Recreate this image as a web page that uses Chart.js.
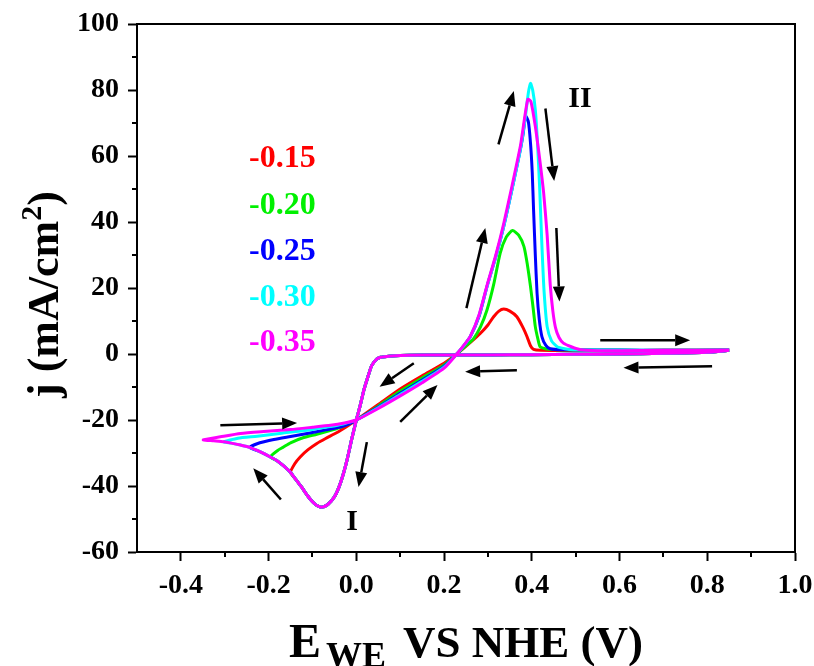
<!DOCTYPE html>
<html>
<head>
<meta charset="utf-8">
<script src="https://cdn.jsdelivr.net/npm/chart.js@4.4.1/dist/chart.umd.min.js"></script>
<style>
  html, body { margin: 0; padding: 0; background: #fff; }
  #wrap { width: 814px; height: 666px; }
</style>
</head>
<body>
<div id="wrap"><canvas id="myChart" width="814" height="666"></canvas></div>
<script>
// scan limits (V vs NHE) for each curve
var labels = ['-0.15', '-0.20', '-0.25', '-0.30', '-0.35']
var colors = ['#ff0000', '#00f000', '#0000ff', '#00ffff', '#ff00ff']

// each loop: cathodic sweep from 0.85 V down to the limit, then anodic sweep back to 0.85 V
var red_E = [0.85, 0.80, 0.70, 0.60, 0.50, 0.40, 0.30, 0.20, 0.12, 0.08, 0.065, 0.055, 0.047, 0.035, 0.025, 0.017, 0.009, 0.0, -0.01, -0.021, -0.03, -0.04, -0.05, -0.065, -0.078, -0.09, -0.1, -0.112, -0.125, -0.138, -0.15,
  -0.14, -0.128, -0.11, -0.09, -0.07, -0.044, -0.02, 0.0, 0.05, 0.1, 0.15, 0.2, 0.229, 0.26, 0.283, 0.3, 0.313, 0.325, 0.336, 0.35, 0.366, 0.38, 0.389, 0.397, 0.404, 0.42, 0.5, 0.6, 0.7, 0.85]
var red_j = [1.1, 0.5, 0.2, 0.0, -0.1, -0.2, -0.3, -0.3, -0.4, -0.6, -0.8, -1.0, -1.5, -3.5, -7.5, -11, -15.5, -20, -25.5, -32, -36.5, -40.5, -43.3, -45.6, -46.4, -45.9, -44.8, -42.8, -40.3, -38, -35.9,
  -33.2, -31.2, -29, -27.1, -25.6, -23.8, -21.8, -20, -15.3, -10.6, -6.6, -2.8, 0, 3.5, 6.3, 8.8, 11.3, 13, 13.6, 13, 11.3, 8, 5.3, 2.5, 1.4, 1.1, 1.1, 1.1, 1.1, 1.2]

var green_E = [0.85, 0.80, 0.70, 0.60, 0.50, 0.40, 0.30, 0.20, 0.12, 0.08, 0.065, 0.055, 0.047, 0.035, 0.025, 0.017, 0.009, 0.0, -0.01, -0.021, -0.03, -0.04, -0.05, -0.065, -0.078, -0.09, -0.1, -0.112, -0.125, -0.138, -0.15, -0.165, -0.18, -0.196,
  -0.18, -0.166, -0.15, -0.12, -0.09, -0.06, -0.036, -0.015, 0.0, 0.05, 0.1, 0.15, 0.2, 0.229, 0.25, 0.267, 0.283, 0.298, 0.313, 0.328, 0.342, 0.356, 0.37, 0.382, 0.39, 0.397, 0.403, 0.408, 0.414, 0.419, 0.434, 0.5, 0.6, 0.7, 0.85]
var green_j = [1.1, 0.5, 0.2, 0.0, -0.1, -0.2, -0.3, -0.3, -0.4, -0.6, -0.8, -1.0, -1.5, -3.5, -7.5, -11, -15.5, -20, -25.5, -32, -36.5, -40.5, -43.3, -45.6, -46.4, -45.9, -44.8, -42.8, -40.3, -38, -35.9, -34, -32.4, -31.2,
  -29.3, -28.2, -26.9, -25.3, -24.3, -23.2, -22.2, -21, -20, -15.8, -11.3, -7.3, -3.3, 0, 2.5, 4.6, 8.2, 13.4, 21, 30.6, 35.5, 37.4, 36, 32.6, 27, 20.5, 14, 8.3, 4.5, 2.2, 1.5, 1.2, 1.1, 1.1, 1.2]

var blue_E = [0.85, 0.80, 0.70, 0.60, 0.50, 0.40, 0.30, 0.20, 0.12, 0.08, 0.065, 0.055, 0.047, 0.035, 0.025, 0.017, 0.009, 0.0, -0.01, -0.021, -0.03, -0.04, -0.05, -0.065, -0.078, -0.09, -0.1, -0.112, -0.125, -0.138, -0.15, -0.165, -0.18, -0.196, -0.22, -0.243,
  -0.22, -0.188, -0.15, -0.112, -0.07, -0.036, -0.015, 0.0, 0.05, 0.1, 0.15, 0.2, 0.229, 0.245, 0.26, 0.28, 0.298, 0.318, 0.336, 0.355, 0.374, 0.38, 0.386, 0.392, 0.397, 0.401, 0.404, 0.408, 0.412, 0.417, 0.423, 0.432, 0.442, 0.47, 0.6, 0.7, 0.85]
var blue_j = [1.1, 0.5, 0.2, 0.0, -0.1, -0.2, -0.3, -0.3, -0.4, -0.6, -0.8, -1.0, -1.5, -3.5, -7.5, -11, -15.5, -20, -25.5, -32, -36.5, -40.5, -43.3, -45.6, -46.4, -45.9, -44.8, -42.8, -40.3, -38, -35.9, -34, -32.4, -31.2, -29.6, -28.3,
  -26.9, -25.9, -25, -24.1, -23, -22.1, -21.1, -20, -16.1, -11.9, -7.9, -3.7, 0, 2.5, 5.3, 11.5, 20.5, 29.5, 38.7, 50, 62, 66.5, 72.1, 70.5, 64, 55, 43.8, 30, 18.4, 10.5, 5.3, 2.6, 1.6, 1.3, 1.2, 1.1, 1.2]

var cyan_E = [0.85, 0.80, 0.70, 0.60, 0.50, 0.40, 0.30, 0.20, 0.12, 0.08, 0.065, 0.055, 0.047, 0.035, 0.025, 0.017, 0.009, 0.0, -0.01, -0.021, -0.03, -0.04, -0.05, -0.065, -0.078, -0.09, -0.1, -0.112, -0.125, -0.138, -0.15, -0.165, -0.18, -0.196, -0.22, -0.243, -0.264, -0.285, -0.302,
  -0.27, -0.226, -0.17, -0.112, -0.06, -0.03, 0.0, 0.05, 0.1, 0.15, 0.2, 0.229, 0.245, 0.26, 0.28, 0.298, 0.318, 0.336, 0.355, 0.374, 0.385, 0.392, 0.397, 0.402, 0.408, 0.413, 0.418, 0.423, 0.428, 0.435, 0.445, 0.458, 0.475, 0.495, 0.6, 0.7, 0.85]
var cyan_j = [1.1, 0.5, 0.2, 0.0, -0.1, -0.2, -0.3, -0.3, -0.4, -0.6, -0.8, -1.0, -1.5, -3.5, -7.5, -11, -15.5, -20, -25.5, -32, -36.5, -40.5, -43.3, -45.6, -46.4, -45.9, -44.8, -42.8, -40.3, -38, -35.9, -34, -32.4, -31.2, -29.6, -28.3, -27.6, -27, -26.6,
  -25.5, -24.9, -24, -23.1, -22, -21.2, -20, -16.3, -12.3, -8.3, -4, 0, 2.5, 5.3, 11.8, 20.5, 29.5, 38.7, 50, 62, 71.5, 79, 82, 80, 74, 64, 50, 33, 19, 8.3, 4, 2.2, 1.6, 1.3, 1.2, 1.1, 1.2]

var magenta_E = [0.85, 0.80, 0.70, 0.60, 0.50, 0.40, 0.30, 0.20, 0.12, 0.08, 0.065, 0.055, 0.047, 0.035, 0.025, 0.017, 0.009, 0.0, -0.01, -0.021, -0.03, -0.04, -0.05, -0.065, -0.078, -0.09, -0.1, -0.112, -0.125, -0.138, -0.15, -0.165, -0.18, -0.196, -0.22, -0.243, -0.264, -0.285, -0.302, -0.325, -0.349,
  -0.31, -0.264, -0.211, -0.15, -0.1, -0.059, -0.03, 0.0, 0.05, 0.1, 0.15, 0.2, 0.229, 0.245, 0.26, 0.28, 0.298, 0.318, 0.336, 0.355, 0.374, 0.383, 0.391, 0.398, 0.408, 0.418, 0.427, 0.435, 0.442, 0.448, 0.454, 0.462, 0.472, 0.49, 0.511, 0.55, 0.6, 0.7, 0.85]
var magenta_j = [1.1, 0.5, 0.2, 0.0, -0.1, -0.2, -0.3, -0.3, -0.4, -0.6, -0.8, -1.0, -1.5, -3.5, -7.5, -11, -15.5, -20, -25.5, -32, -36.5, -40.5, -43.3, -45.6, -46.4, -45.9, -44.8, -42.8, -40.3, -38, -35.9, -34, -32.4, -31.2, -29.6, -28.3, -27.6, -27, -26.6, -26.3, -26.0,
  -25.1, -24.1, -23.5, -22.9, -22.2, -21.6, -21, -20, -16.5, -12.7, -8.7, -4.3, 0, 2.6, 5.4, 12, 20.8, 30, 39.5, 51, 63, 71, 77.2, 76.5, 69, 59, 48.8, 36, 21, 13, 8, 5, 3.3, 2.2, 1.3, 1.0, 1.0, 1.1, 1.2]

var xTicks = [-0.4, -0.2, 0.0, 0.2, 0.4, 0.6, 0.8, 1.0]
var xMinor = [-0.3, -0.1, 0.1, 0.3, 0.5, 0.7, 0.9]
var yTicks = [-60, -40, -20, 0, 20, 40, 60, 80, 100]
var yMinor = [-50, -30, -10, 10, 30, 50, 70, 90]

// sweep direction arrows, [E, j] from -> to
var arrowFrom = [[0.324, 63.5], [0.431, 74.4], [0.456, 38.2], [0.251, 13.9], [0.366, -4.9], [0.556, 4.2], [0.811, -3.7], [0.131, -2.8], [0.100, -20.6], [0.024, -26.7], [-0.310, -21.6], [-0.172, -44.1]]
var arrowTo = [[0.359, 79.7], [0.451, 52.4], [0.463, 15.9], [0.294, 38.2], [0.248, -5.4], [0.761, 4.2], [0.609, -4.2], [0.053, -9.9], [0.185, -9.4], [0.005, -40.3], [-0.135, -20.9], [-0.235, -34.6]]

var allE = [red_E, green_E, blue_E, cyan_E, magenta_E]
var allJ = [red_j, green_j, blue_j, cyan_j, magenta_j]

var datasets = []
for (var i = 0; i < allE.length; i++) {
    var pts = []
    for (var k = 0; k < allE[i].length; k++) {
        pts.push({ x: allE[i][k], y: allJ[i][k] })
    }
    datasets.push({
        label: labels[i],
        data: pts,
        showLine: true,
        borderColor: colors[i],
        backgroundColor: colors[i],
        borderWidth: 3,
        pointRadius: 0,
        tension: 0.2,
        fill: false,
        order: allE.length - i
    })
}

var serif = "'Liberation Serif', 'Times New Roman', serif"

function drawArrow(ctx, x1, y1, x2, y2) {
    var a = Math.atan2(y2 - y1, x2 - x1)
    var hl = 15, hw = 6
    var bx = x2 - hl * Math.cos(a), by = y2 - hl * Math.sin(a)
    ctx.beginPath()
    ctx.moveTo(x1, y1)
    ctx.lineTo(bx, by)
    ctx.stroke()
    ctx.beginPath()
    ctx.moveTo(x2, y2)
    ctx.lineTo(bx + hw * Math.sin(a), by - hw * Math.cos(a))
    ctx.lineTo(bx - hw * Math.sin(a), by + hw * Math.cos(a))
    ctx.closePath()
    ctx.fill()
}

var extras = {
    id: 'extras',
    afterDraw: function (chart) {
        var ctx = chart.ctx
        var xs = chart.scales.x, ys = chart.scales.y
        var area = chart.chartArea
        ctx.save()

        // frame
        ctx.strokeStyle = '#000'
        ctx.lineWidth = 2
        ctx.strokeRect(area.left, area.top, area.right - area.left, area.bottom - area.top)

        // minor ticks
        ctx.beginPath()
        xMinor.forEach(function (v) {
            var px = Math.round(xs.getPixelForValue(v))
            ctx.moveTo(px, area.bottom)
            ctx.lineTo(px, area.bottom + 5)
        })
        yMinor.forEach(function (v) {
            var py = Math.round(ys.getPixelForValue(v))
            ctx.moveTo(area.left, py)
            ctx.lineTo(area.left - 5, py)
        })
        ctx.stroke()

        // arrows
        ctx.fillStyle = '#000'
        ctx.lineWidth = 2.5
        for (var n = 0; n < arrowFrom.length; n++) {
            drawArrow(ctx,
                xs.getPixelForValue(arrowFrom[n][0]), ys.getPixelForValue(arrowFrom[n][1]),
                xs.getPixelForValue(arrowTo[n][0]), ys.getPixelForValue(arrowTo[n][1]))
        }

        // curve labels
        ctx.textAlign = 'left'
        ctx.textBaseline = 'middle'
        ctx.font = 'bold 32px ' + serif
        var ly = [159, 206, 252, 298, 343]
        for (var m = 0; m < labels.length; m++) {
            ctx.fillStyle = colors[m]
            ctx.fillText(labels[m], 249, ly[m])
        }

        // peak labels
        ctx.fillStyle = '#000'
        ctx.textAlign = 'center'
        ctx.font = 'bold 30px ' + serif
        ctx.fillText('I', 352, 522)
        ctx.fillText('II', 580, 99)

        // x title
        ctx.textAlign = 'left'
        ctx.textBaseline = 'alphabetic'
        ctx.font = 'bold 48px ' + serif
        ctx.fillText('E', 289, 657)
        ctx.font = 'bold 36px ' + serif
        ctx.fillText('WE', 326, 667)
        ctx.font = 'bold 45px ' + serif
        ctx.fillText('VS NHE (V)', 403, 657)

        // y title
        ctx.translate(58, 398)
        ctx.rotate(-Math.PI / 2)
        var x0 = 0
        ctx.font = 'bold 44px ' + serif
        ctx.fillText('j (mA/cm', x0, 0)
        x0 += ctx.measureText('j (mA/cm').width
        ctx.font = 'bold 30px ' + serif
        ctx.fillText('2', x0, -17)
        x0 += ctx.measureText('2').width
        ctx.font = 'bold 44px ' + serif
        ctx.fillText(')', x0, 0)

        ctx.restore()
    }
}

var tickFont = { family: serif, weight: 'bold', size: 28 }

const ctx = document.getElementById('myChart')
const myChart = new Chart(ctx, {
    type: 'scatter',
    data: { datasets: datasets },
    options: {
        responsive: false,
        animation: false,
        devicePixelRatio: 1,
        layout: { padding: { left: 0, top: 24, right: 19, bottom: 0 } },
        plugins: {
            legend: { display: false },
            tooltip: { enabled: false },
            title: { display: false }
        },
        scales: {
            x: {
                type: 'linear',
                min: -0.5,
                max: 1.0,
                afterBuildTicks: function (s) { s.ticks = xTicks.map(function (v) { return { value: v } }) },
                afterFit: function (s) { s.height = 114; s.paddingLeft = 0; s.paddingRight = 0 },
                ticks: {
                    font: tickFont,
                    color: '#000',
                    padding: 8,
                    maxRotation: 0,
                    callback: function (v) { return Number(v).toFixed(1) }
                },
                grid: { drawOnChartArea: false, tickLength: 9, tickWidth: 2, tickColor: '#000' },
                border: { color: '#000', width: 2 }
            },
            y: {
                type: 'linear',
                min: -60,
                max: 100,
                afterBuildTicks: function (s) { s.ticks = yTicks.map(function (v) { return { value: v } }) },
                afterFit: function (s) { s.width = 137; s.paddingTop = 0; s.paddingBottom = 0 },
                ticks: {
                    font: tickFont,
                    color: '#000',
                    padding: 9,
                    callback: function (v) { return String(v) }
                },
                grid: { drawOnChartArea: false, tickLength: 9, tickWidth: 2, tickColor: '#000' },
                border: { color: '#000', width: 2 }
            }
        }
    },
    plugins: [extras]
})
</script>
</body>
</html>
